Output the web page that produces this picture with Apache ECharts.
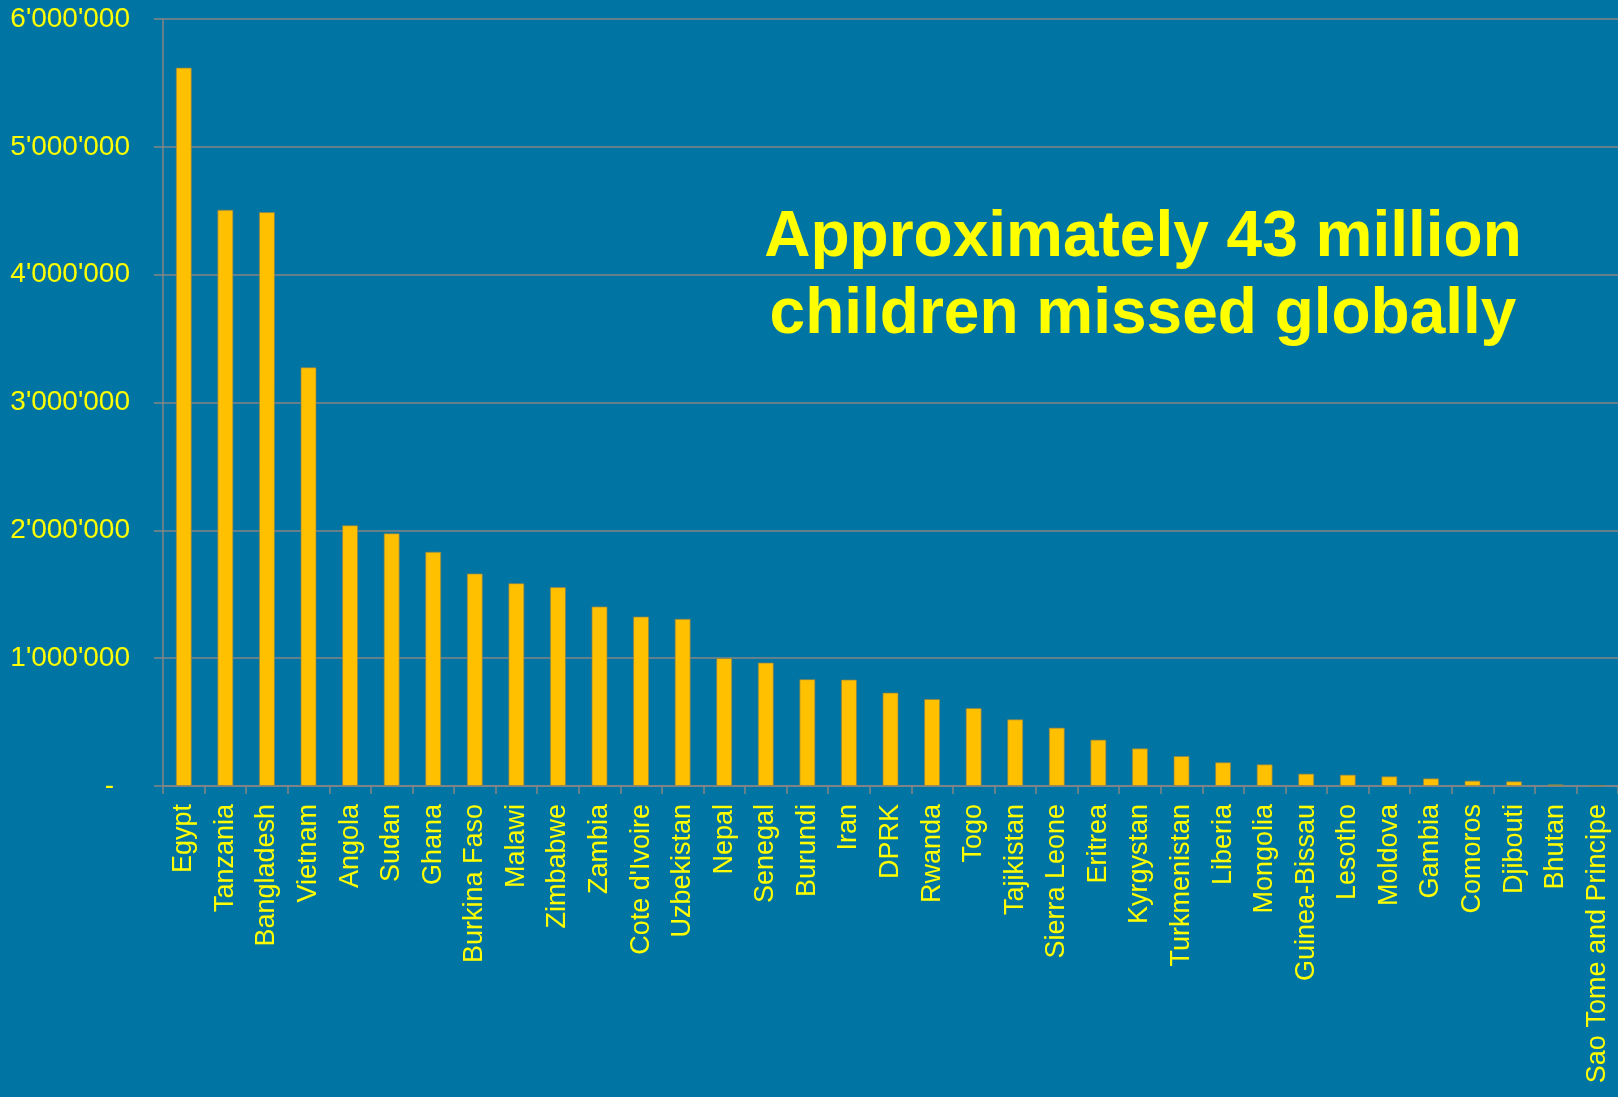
<!DOCTYPE html>
<html>
<head>
<meta charset="utf-8">
<script src="https://cdn.jsdelivr.net/npm/echarts@6/dist/echarts.min.js"></script>
<style>
html,body{margin:0;padding:0;background:#0074A2;}
#chart{width:1618px;height:1097px;}
</style>
</head>
<body>
<div id="chart"></div>
<script>
const countries = ["Egypt","Tanzania","Bangladesh","Vietnam","Angola","Sudan","Ghana","Burkina Faso","Malawi","Zimbabwe","Zambia","Cote d'Ivoire","Uzbekistan","Nepal","Senegal","Burundi","Iran","DPRK","Rwanda","Togo","Tajikistan","Sierra Leone","Eritrea","Kyrgystan","Turkmenistan","Liberia","Mongolia","Guinea-Bissau","Lesotho","Moldova","Gambia","Comoros","Djibouti","Bhutan","Sao Tome and Principe"];
const missedChildren = [5620000,4508000,4490000,3276000,2040000,1977000,1833000,1663000,1587000,1556000,1405000,1326000,1308000,1001000,966000,836000,833000,731000,681000,611000,522000,457000,363000,295000,235000,186000,170000,97000,89000,76000,60000,42000,37000,13000,5000];
const titleLines = ["Approximately 43 million","children missed globally"];

const FONT = '"Liberation Sans", Arial, sans-serif';
const chart = echarts.init(document.getElementById('chart'), null, {renderer:'canvas'});

function fmt(v){
  if (v === 0) return '{z|-}';
  return String(v).replace(/\B(?=(\d{3})+(?!\d))/g, "'");
}

chart.setOption({
  backgroundColor: '#0074A2',
  animation: false,
  grid: {left: 163, right: 0, top: 19, bottom: 311, containLabel: false},
  xAxis: {
    type: 'category',
    data: countries,
    boundaryGap: true,
    axisLine: {show: true, lineStyle: {color: '#858585', width: 1.5}},
    axisTick: {show: true, interval: 0, length: 8, lineStyle: {color: '#858585', width: 1.5}},
    axisLabel: {interval: 0, rotate: 90, margin: 18, color: '#FFFF00', fontSize: 27, fontFamily: FONT},
    splitLine: {show: false}
  },
  yAxis: {
    type: 'value',
    min: 0, max: 6000000, interval: 1000000,
    axisLine: {show: true, lineStyle: {color: '#858585', width: 1.5}},
    axisTick: {show: true, length: 9, lineStyle: {color: '#858585', width: 1.5}},
    axisLabel: {
      margin: 33, color: '#FFFF00', fontSize: 28, fontFamily: FONT,
      formatter: fmt,
      rich: {z: {color: '#FFFF00', fontSize: 28, fontFamily: FONT, padding: [0, 16, 0, 0]}}
    },
    splitLine: {show: true, lineStyle: {color: '#858585', width: 1.5}}
  },
  series: [{
    type: 'bar',
    data: missedChildren,
    barWidth: 16,
    itemStyle: {color: '#FFC000', borderColor: 'rgba(140,130,80,0.7)', borderWidth: 1}
  }],
  graphic: [
    {type: 'text', left: null, x: 1143, y: 238, style: {text: titleLines[0], fill: '#FFFF00', font: 'bold 64px ' + FONT, textAlign: 'center', textVerticalAlign: 'middle'}},
    {type: 'text', x: 1143, y: 315, style: {text: titleLines[1], fill: '#FFFF00', font: 'bold 64px ' + FONT, textAlign: 'center', textVerticalAlign: 'middle'}}
  ]
});
</script>
</body>
</html>
